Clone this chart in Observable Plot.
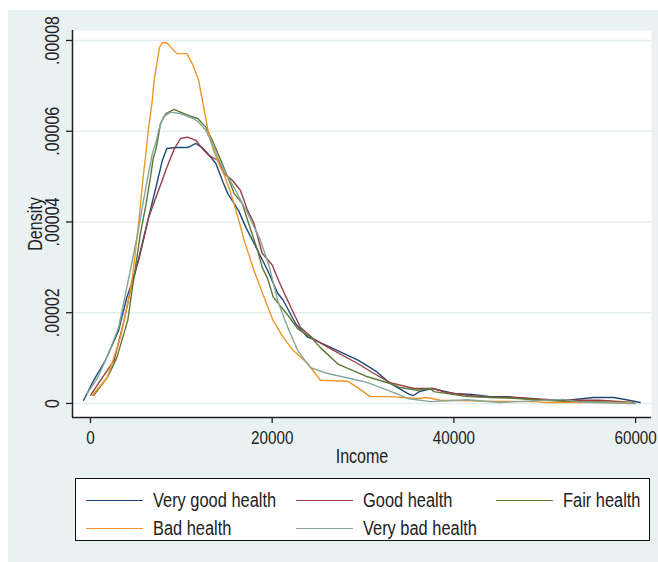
<!DOCTYPE html>
<html>
<head>
<meta charset="utf-8">
<script src="https://cdn.jsdelivr.net/npm/d3@7"></script>
<script src="https://cdn.jsdelivr.net/npm/@observablehq/plot@0.6"></script>
<style>
  html, body { margin: 0; padding: 0; background: #ffffff; }
  body { width: 658px; height: 562px; position: relative; overflow: hidden;
         font-family: "Liberation Sans", Arial, sans-serif; color: #222; }
  #panel { position: absolute; left: 8px; top: 10px; width: 650px; height: 552px; background: #eaf1f3; }
  #chart { position: absolute; left: 0; top: 0; }
  #legend { position: absolute; left: 67px; top: 468px; width: 573px; height: 61px;
            border: 1px solid #111; background: #fff; }
  .item { position: absolute; height: 24px; display: flex; align-items: center; font-size: 20px; white-space: nowrap; }
  .swatch { width: 57px; height: 0; border-top: 1.6px solid; margin-right: 10px; }
  .lab { display: inline-block; transform: scaleX(0.82); transform-origin: left center; }
</style>
</head>
<body>
<div id="panel">
  <div id="chart"></div>
  <div id="legend"></div>
</div>
<script>
// ---- data ----
const seriesNames = ["Very good health", "Good health", "Fair health", "Bad health", "Very bad health"];
const seriesColors = ["#1f4b76", "#983f48", "#5a7a33", "#f0962a", "#86a59b"];

const veryGoodIncome = [-750, 350, 1650, 3100, 4000, 4800, 5700, 6400, 7200, 7900, 8400, 9400, 10700, 11600, 12300, 12900, 13800, 14600, 15100, 16300, 17100, 18000, 19500, 20600, 21200, 22600, 23900, 24200, 26500, 29500, 31500, 33000, 34900, 35500, 36200, 37600, 40000, 42000, 44000, 46000, 48800, 52500, 55400, 57600, 59000, 60500];
const veryGoodDensity = [0.0000007, 0.0000051, 0.0000095, 0.0000161, 0.0000234, 0.0000278, 0.0000353, 0.0000410, 0.0000476, 0.0000535, 0.0000562, 0.0000564, 0.0000564, 0.0000573, 0.0000564, 0.0000551, 0.0000529, 0.0000487, 0.0000463, 0.0000425, 0.0000388, 0.0000353, 0.0000293, 0.0000243, 0.0000228, 0.0000175, 0.0000146, 0.0000144, 0.0000123, 0.0000095, 0.0000070, 0.0000044, 0.0000022, 0.0000017, 0.0000026, 0.0000033, 0.0000022, 0.0000020, 0.0000015, 0.0000015, 0.0000008, 0.0000007, 0.0000013, 0.0000013, 0.0000008, 0.0000002];

const goodIncome = [0, 1100, 2600, 3700, 4700, 5300, 5900, 6400, 7200, 7900, 8400, 8800, 9200, 9900, 10700, 11600, 12300, 13000, 14000, 14700, 15600, 16500, 17300, 18000, 18900, 20000, 20700, 21700, 23100, 24500, 26400, 29400, 31200, 33000, 35600, 37800, 39000, 41500, 44000, 47000, 50600, 53000, 56000, 59800];
const goodDensity = [0.0000018, 0.0000051, 0.0000095, 0.0000183, 0.0000278, 0.0000315, 0.0000366, 0.0000410, 0.0000454, 0.0000492, 0.0000520, 0.0000540, 0.0000560, 0.0000584, 0.0000587, 0.0000580, 0.0000562, 0.0000547, 0.0000536, 0.0000507, 0.0000492, 0.0000470, 0.0000425, 0.0000397, 0.0000331, 0.0000305, 0.0000271, 0.0000227, 0.0000168, 0.0000143, 0.0000121, 0.0000088, 0.0000066, 0.0000046, 0.0000033, 0.0000033, 0.0000025, 0.0000018, 0.0000013, 0.0000013, 0.0000008, 0.0000007, 0.0000007, 0.0000002];

const fairIncome = [350, 1850, 2900, 4100, 4800, 5500, 6050, 6600, 6900, 7200, 7400, 7700, 8300, 9200, 9900, 11000, 11800, 12700, 13400, 14300, 15400, 15800, 16700, 17400, 18400, 18900, 19500, 20100, 21700, 22800, 24300, 25300, 27300, 30300, 33000, 34100, 36000, 37400, 37800, 41500, 47000, 50000, 52500, 56000, 59400];
const fairDensity = [0.0000018, 0.0000057, 0.0000101, 0.0000183, 0.0000280, 0.0000375, 0.0000432, 0.0000498, 0.0000540, 0.0000560, 0.0000580, 0.0000617, 0.0000639, 0.0000648, 0.0000642, 0.0000633, 0.0000628, 0.0000609, 0.0000580, 0.0000538, 0.0000485, 0.0000463, 0.0000441, 0.0000397, 0.0000337, 0.0000300, 0.0000275, 0.0000235, 0.0000195, 0.0000165, 0.0000145, 0.0000123, 0.0000086, 0.0000060, 0.0000044, 0.0000035, 0.0000029, 0.0000033, 0.0000026, 0.0000015, 0.0000011, 0.0000007, 0.0000004, 0.0000004, 0.0000000];

const badIncome = [200, 1850, 3300, 4400, 4700, 5300, 5800, 6050, 6400, 6800, 7000, 7600, 7900, 8400, 9500, 10600, 11300, 11900, 12400, 12900, 13500, 14300, 14700, 15500, 16300, 16900, 18000, 19100, 20100, 21200, 22300, 23900, 25300, 28300, 29400, 30800, 33000, 36000, 37000, 38500, 43000, 49000, 50000, 54000, 59500];
const badDensity = [0.0000018, 0.0000057, 0.0000146, 0.0000249, 0.0000293, 0.0000397, 0.0000500, 0.0000542, 0.0000609, 0.0000667, 0.0000712, 0.0000785, 0.0000795, 0.0000795, 0.0000771, 0.0000771, 0.0000745, 0.0000712, 0.0000660, 0.0000605, 0.0000560, 0.0000520, 0.0000505, 0.0000460, 0.0000405, 0.0000360, 0.0000293, 0.0000234, 0.0000183, 0.0000146, 0.0000117, 0.0000088, 0.0000051, 0.0000049, 0.0000035, 0.0000015, 0.0000015, 0.0000011, 0.0000013, 0.0000007, 0.0000005, 0.0000004, 0.0000002, 0.0000002, 0.0000002];

const veryBadIncome = [-350, 800, 2000, 3100, 4400, 5200, 5700, 6300, 6800, 7200, 7500, 8000, 8800, 9900, 11300, 11900, 12700, 13200, 14300, 15800, 17300, 18700, 19700, 20600, 21700, 22800, 24200, 26100, 28600, 30500, 33400, 34900, 37400, 41500, 45000, 52000, 54000, 60000];
const veryBadDensity = [0.0000022, 0.0000057, 0.0000110, 0.0000168, 0.0000295, 0.0000375, 0.0000432, 0.0000498, 0.0000550, 0.0000575, 0.0000602, 0.0000631, 0.0000642, 0.0000639, 0.0000628, 0.0000620, 0.0000602, 0.0000580, 0.0000529, 0.0000476, 0.0000419, 0.0000360, 0.0000300, 0.0000227, 0.0000168, 0.0000117, 0.0000079, 0.0000066, 0.0000055, 0.0000046, 0.0000024, 0.0000011, 0.0000004, 0.0000008, 0.0000002, 0.0000009, 0.0000003, 0.0000000];

const xTicks = [0, 20000, 40000, 60000];
const xTickLabels = ["0", "20000", "40000", "60000"];
const yTicks = [0, 0.00002, 0.00004, 0.00006, 0.00008];
const yTickLabels = ["0", ".00002", ".00004", ".00006", ".00008"];
const xTitle = "Income";
const yTitle = "Density";

// ---- build table ----
const incomeArrays = [veryGoodIncome, goodIncome, fairIncome, badIncome, veryBadIncome];
const densityArrays = [veryGoodDensity, goodDensity, fairDensity, badDensity, veryBadDensity];
const rows = [];
seriesNames.forEach((name, s) => {
  incomeArrays[s].forEach((inc, i) => rows.push({series: name, income: inc, density: densityArrays[s][i]}));
});

const xDomain = [-1980, 61750];
const yDomain = [-0.0000031, 0.0000822];
const font = '"Liberation Sans", Arial, sans-serif';

const chart = Plot.plot({
  width: 650,
  height: 460,
  marginLeft: 64,
  marginTop: 20,
  marginRight: 7,
  marginBottom: 53,
  style: {background: "transparent", fontFamily: font, fontSize: "20px", color: "#222", overflow: "visible"},
  x: {domain: xDomain, label: null},
  y: {domain: yDomain, label: null},
  color: {domain: seriesNames, range: seriesColors},
  marks: [
    Plot.frame({fill: "white", stroke: null}),
    Plot.gridY(yTicks, {stroke: "#e4edf0", strokeOpacity: 1, strokeWidth: 1.5}),
    Plot.line(rows, {x: "income", y: "density", z: "series", stroke: "series", strokeWidth: 1.4, curve: "linear"}),
    Plot.ruleX([xDomain[0]], {stroke: "#222", strokeWidth: 1.5}),
    Plot.ruleY([yDomain[0]], {stroke: "#222", strokeWidth: 1.5}),
    Plot.axisY({ticks: yTicks, tickSize: 6, tickFormat: () => "", label: null, stroke: "#222", strokeWidth: 1.3}),
    Plot.text(yTicks, {y: d => d, frameAnchor: "left", text: (d, i) => yTickLabels[i], rotate: -90,
      dx: -20, textAnchor: "middle", lineAnchor: "middle", fontSize: 20, fill: "#222"}),
    Plot.axisX({ticks: xTicks, tickSize: 6, tickPadding: 7, tickFormat: d => xTickLabels[xTicks.indexOf(d)],
      fontSize: 19, label: null, stroke: "#222", strokeWidth: 1.3, fill: "#222"}),
    Plot.text([yTitle], {frameAnchor: "left", dx: -37, rotate: -90, textAnchor: "middle", lineAnchor: "middle", fontSize: 20, fill: "#222"}),
    Plot.text([xTitle], {frameAnchor: "bottom", dy: 39, textAnchor: "middle", lineAnchor: "middle", fontSize: 20, fill: "#222"})
  ]
});
document.getElementById("chart").appendChild(chart);

// condense SVG text to mimic the narrow face of the original
chart.querySelectorAll("text").forEach(t => {
  const L = t.getComputedTextLength();
  if (L > 0) {
    t.setAttribute("textLength", (L * 0.8).toFixed(1));
    t.setAttribute("lengthAdjust", "spacingAndGlyphs");
  }
});

// ---- legend ----
const legend = document.getElementById("legend");
const colLeft = [10, 220, 420];
const rowTop = [9, 37];
seriesNames.forEach((name, i) => {
  const item = document.createElement("div");
  item.className = "item";
  item.style.left = colLeft[i % 3] + "px";
  item.style.top = rowTop[Math.floor(i / 3)] + "px";
  const sw = document.createElement("span");
  sw.className = "swatch";
  sw.style.borderTopColor = seriesColors[i];
  const lab = document.createElement("span");
  lab.className = "lab";
  lab.textContent = name;
  item.appendChild(sw);
  item.appendChild(lab);
  legend.appendChild(item);
});
</script>
</body>
</html>
